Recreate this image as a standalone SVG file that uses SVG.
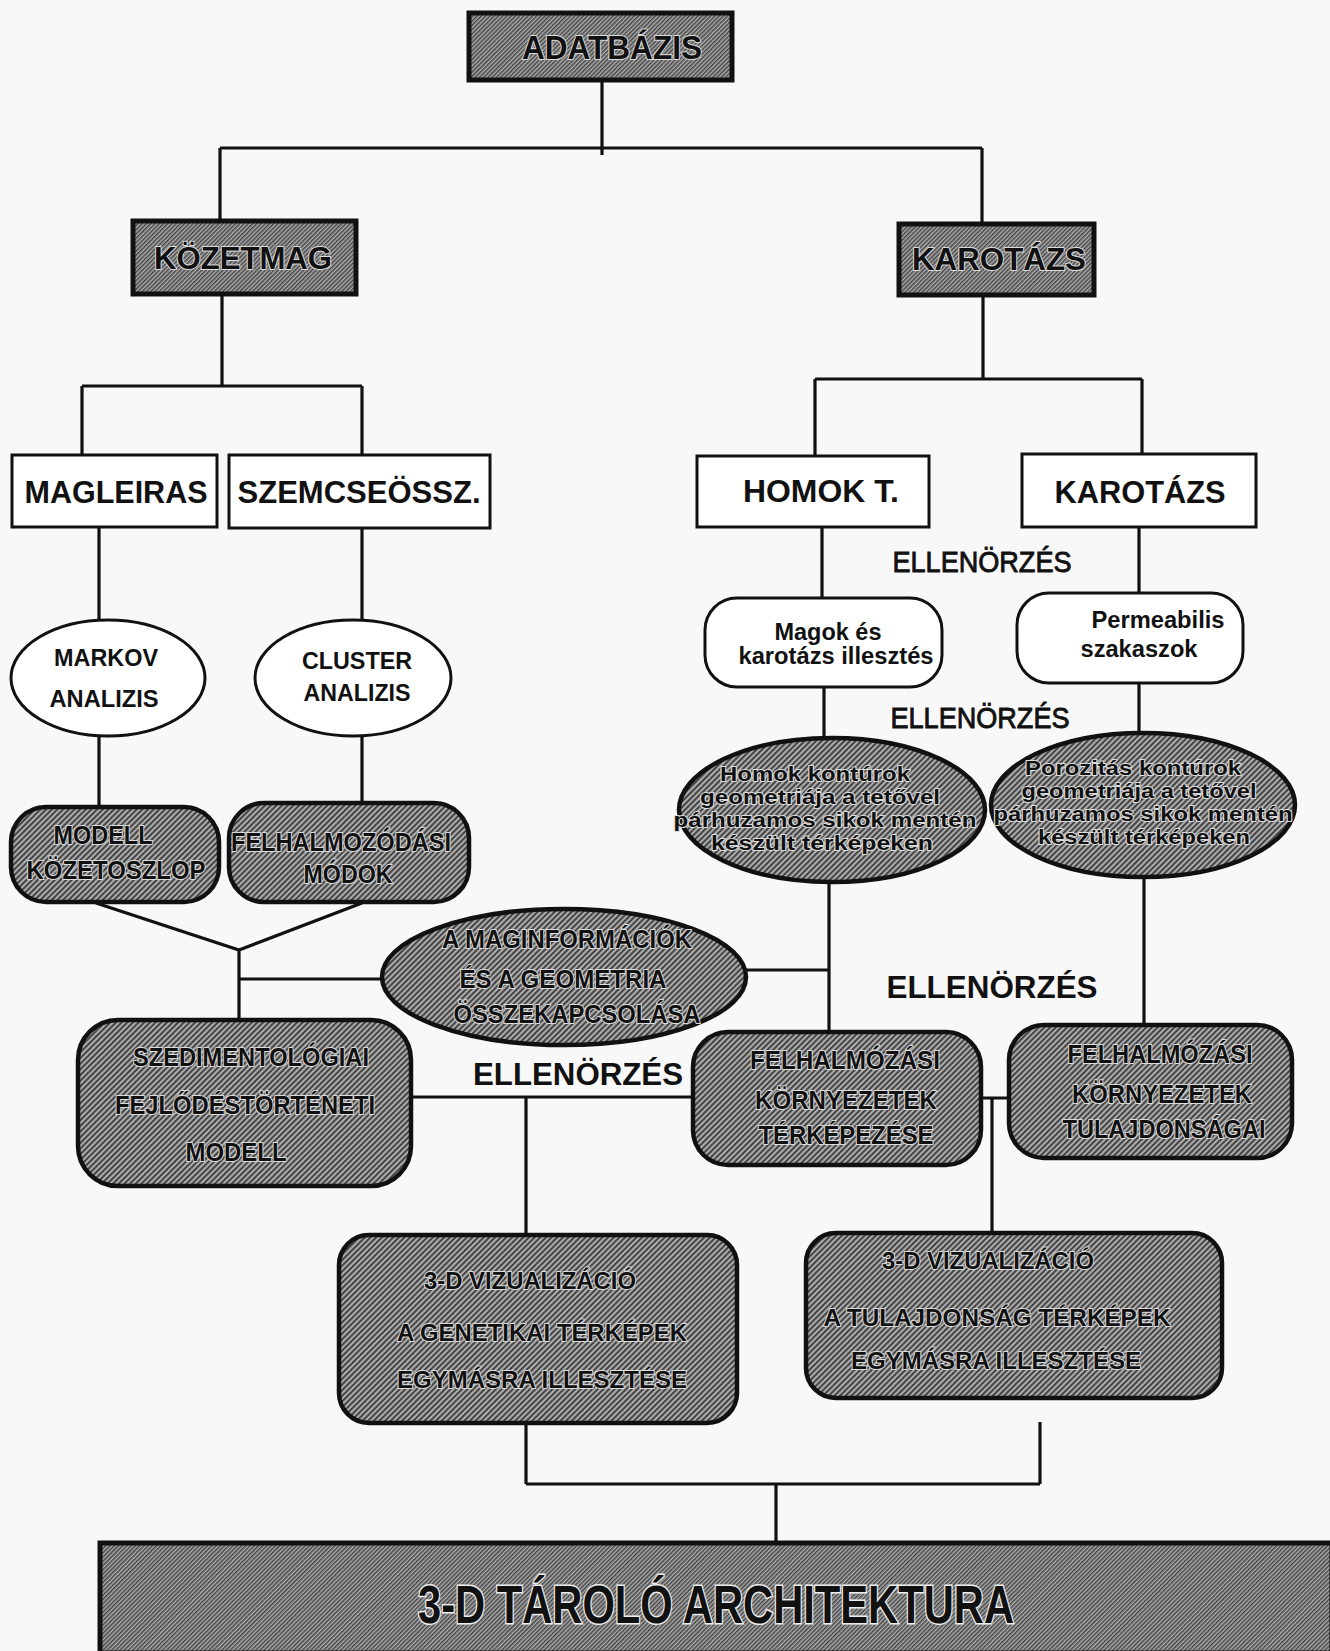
<svg xmlns="http://www.w3.org/2000/svg" width="1330" height="1651" viewBox="0 0 1330 1651">
<defs>
<pattern id="hatch" width="4" height="4" patternUnits="userSpaceOnUse" patternTransform="rotate(-45)">
<rect width="4" height="4" fill="#ababab"/>
<rect width="4" height="1.9" fill="#404040"/>
</pattern>
<pattern id="hatch2" width="3" height="3" patternUnits="userSpaceOnUse" patternTransform="rotate(-45)">
<rect width="3" height="3" fill="#aaaaaa"/>
<rect width="3" height="1.5" fill="#474747"/>
</pattern>
</defs>
<style>
text{font-family:"Liberation Sans",Arial,sans-serif;text-anchor:middle;fill:#111}
.b{font-weight:bold}
.hs{font-weight:bold;stroke:#dcdcdc;stroke-width:2;paint-order:stroke;stroke-linejoin:round}
.fu{font-weight:normal;stroke:#111;stroke-width:0.9}
.box{fill:url(#hatch2);stroke:#111;stroke-width:5}
.rbox{fill:url(#hatch);stroke:#111;stroke-width:4.5}
.wbox{fill:#fff;stroke:#111;stroke-width:3}
.conn{fill:none;stroke:#111;stroke-width:3.2}
</style>
<rect width="1330" height="1651" fill="#f8f8f8"/>

<g id="connectors" class="conn">
<path d="M602,80 V155 M220,148 H982 M220,148 V221 M982,148 V224"/>
<path d="M222,294 V386 M82,386 H362 M82,386 V455 M362,386 V455"/>
<path d="M983,295 V379 M815,379 H1142 M815,379 V456 M1142,379 V454"/>
<path d="M99,527 V620 M362,528 V620 M822,527 V598 M1139,527 V593"/>
<path d="M824,687 V737 M1139,683 V732"/>
<path d="M99,737 V807 M362,737 V803"/>
<path d="M96,903 L239,950 L362,903 M239,950 V1020 M239,979 H382"/>
<path d="M746,970 H829 M829,882 V1032 M1144,877 V1025"/>
<path d="M411,1097 H693 M526,1097 V1235 M981,1098 H1009 M992,1098 V1233"/>
<path d="M526,1423 V1484 M526,1484 H1040 M1040,1422 V1484 M776,1484 V1543"/>
</g>

<g id="adatbazis">
<rect class="box" x="469" y="13" width="263" height="67"/>
<text class="hs" x="612" y="59" font-size="33" textLength="180" lengthAdjust="spacingAndGlyphs">ADATBÁZIS</text>
</g>
<g id="kozetmag">
<rect class="box" x="133" y="221" width="223" height="73"/>
<text class="hs" x="243" y="269" font-size="32" textLength="178" lengthAdjust="spacingAndGlyphs">KÖZETMAG</text>
</g>
<g id="karotazs1">
<rect class="box" x="899" y="224" width="195" height="71"/>
<text class="hs" x="999" y="270" font-size="32" textLength="174" lengthAdjust="spacingAndGlyphs">KAROTÁZS</text>
</g>

<g id="magleiras">
<rect class="wbox" x="12" y="455" width="205" height="72"/>
<text class="b" x="116" y="503" font-size="31" textLength="183" lengthAdjust="spacingAndGlyphs">MAGLEIRAS</text>
</g>
<g id="szemcse">
<rect class="wbox" x="229" y="455" width="261" height="73"/>
<text class="b" x="359" y="503" font-size="31" textLength="243" lengthAdjust="spacingAndGlyphs">SZEMCSEÖSSZ.</text>
</g>
<g id="homokt">
<rect class="wbox" x="697" y="456" width="232" height="71"/>
<text class="b" x="821" y="502" font-size="31" textLength="156" lengthAdjust="spacingAndGlyphs">HOMOK T.</text>
</g>
<g id="karotazs2">
<rect class="wbox" x="1022" y="454" width="234" height="73"/>
<text class="b" x="1140" y="503" font-size="31" textLength="171" lengthAdjust="spacingAndGlyphs">KAROTÁZS</text>
</g>

<g id="markov">
<ellipse class="wbox" cx="108" cy="678" rx="97" ry="58"/>
<text class="b" x="106" y="666" font-size="24" textLength="104" lengthAdjust="spacingAndGlyphs">MARKOV</text>
<text class="b" x="104" y="707" font-size="24" textLength="109" lengthAdjust="spacingAndGlyphs">ANALIZIS</text>
</g>
<g id="cluster">
<ellipse class="wbox" cx="353" cy="678" rx="98" ry="58"/>
<text class="b" x="357" y="669" font-size="24" textLength="110" lengthAdjust="spacingAndGlyphs">CLUSTER</text>
<text class="b" x="357" y="701" font-size="24" textLength="107" lengthAdjust="spacingAndGlyphs">ANALIZIS</text>
</g>

<g id="ellenorzes1">
<text class="fu" x="982" y="572" font-size="30" textLength="179" lengthAdjust="spacingAndGlyphs">ELLENÖRZÉS</text>
</g>
<g id="magok">
<rect class="wbox" x="705" y="598" width="237" height="89" rx="32"/>
<text class="b" x="828" y="640" font-size="23" textLength="107" lengthAdjust="spacingAndGlyphs">Magok és</text>
<text class="b" x="836" y="664" font-size="23" textLength="195" lengthAdjust="spacingAndGlyphs">karotázs illesztés</text>
</g>
<g id="permeabilis">
<rect class="wbox" x="1017" y="593" width="226" height="90" rx="32"/>
<text class="b" x="1158" y="628" font-size="23" textLength="133" lengthAdjust="spacingAndGlyphs">Permeabilis</text>
<text class="b" x="1139" y="657" font-size="23" textLength="117" lengthAdjust="spacingAndGlyphs">szakaszok</text>
</g>
<g id="ellenorzes2">
<text class="fu" x="980" y="728" font-size="30" textLength="179" lengthAdjust="spacingAndGlyphs">ELLENÖRZÉS</text>
</g>

<g id="homok-konturok">
<ellipse class="rbox" cx="832" cy="810" rx="153" ry="72"/>
<text class="hs" x="815" y="781" font-size="20" textLength="190" lengthAdjust="spacingAndGlyphs">Homok kontúrok</text>
<text class="hs" x="820" y="804" font-size="20" textLength="240" lengthAdjust="spacingAndGlyphs">geometriája a tetővel</text>
<text class="hs" x="825" y="827" font-size="20" textLength="303" lengthAdjust="spacingAndGlyphs">párhuzamos sikok mentén</text>
<text class="hs" x="822" y="850" font-size="20" textLength="222" lengthAdjust="spacingAndGlyphs">készült térképeken</text>
</g>
<g id="porozitas-konturok">
<ellipse class="rbox" cx="1143" cy="805" rx="152" ry="72"/>
<text class="hs" x="1133" y="775" font-size="20" textLength="216" lengthAdjust="spacingAndGlyphs">Porozitás kontúrok</text>
<text class="hs" x="1139" y="798" font-size="20" textLength="235" lengthAdjust="spacingAndGlyphs">geometriája a tetővel</text>
<text class="hs" x="1143" y="821" font-size="20" textLength="299" lengthAdjust="spacingAndGlyphs">párhuzamos sikok mentén</text>
<text class="hs" x="1144" y="844" font-size="20" textLength="212" lengthAdjust="spacingAndGlyphs">készült térképeken</text>
</g>

<g id="modell-kozetoszlop">
<rect class="rbox" x="11" y="807" width="208" height="95" rx="35"/>
<text class="hs" x="103" y="844" font-size="25" textLength="99" lengthAdjust="spacingAndGlyphs">MODELL</text>
<text class="hs" x="116" y="879" font-size="25" textLength="179" lengthAdjust="spacingAndGlyphs">KÖZETOSZLOP</text>
</g>
<g id="felhalmozodasi-modok">
<rect class="rbox" x="229" y="803" width="240" height="99" rx="35"/>
<text class="hs" x="341" y="851" font-size="25" textLength="220" lengthAdjust="spacingAndGlyphs">FELHALMOZÓDÁSI</text>
<text class="hs" x="348" y="883" font-size="25" textLength="89" lengthAdjust="spacingAndGlyphs">MÓDOK</text>
</g>

<g id="maginformaciok">
<ellipse class="rbox" cx="564" cy="977" rx="182" ry="68"/>
<text class="hs" x="567" y="948" font-size="25" textLength="250" lengthAdjust="spacingAndGlyphs">A MAGINFORMÁCIÓK</text>
<text class="hs" x="563" y="988" font-size="25" textLength="207" lengthAdjust="spacingAndGlyphs">ÉS A GEOMETRIA</text>
<text class="hs" x="577" y="1023" font-size="25" textLength="247" lengthAdjust="spacingAndGlyphs">ÖSSZEKAPCSOLÁSA</text>
</g>

<g id="ellenorzes3">
<text class="b" x="992" y="998" font-size="31" textLength="211" lengthAdjust="spacingAndGlyphs">ELLENÖRZÉS</text>
</g>
<g id="ellenorzes4">
<text class="b" x="578" y="1085" font-size="31" textLength="210" lengthAdjust="spacingAndGlyphs">ELLENÖRZÉS</text>
</g>

<g id="szedimentologiai">
<rect class="rbox" x="78" y="1020" width="333" height="166" rx="40"/>
<text class="hs" x="251" y="1066" font-size="25" textLength="236" lengthAdjust="spacingAndGlyphs">SZEDIMENTOLÓGIAI</text>
<text class="hs" x="245" y="1114" font-size="25" textLength="260" lengthAdjust="spacingAndGlyphs">FEJLŐDÉSTÖRTÉNETI</text>
<text class="hs" x="236" y="1161" font-size="25" textLength="101" lengthAdjust="spacingAndGlyphs">MODELL</text>
</g>
<g id="felhalmozasi-terkepezese">
<rect class="rbox" x="693" y="1032" width="288" height="133" rx="35"/>
<text class="hs" x="845" y="1069" font-size="25" textLength="190" lengthAdjust="spacingAndGlyphs">FELHALMÓZÁSI</text>
<text class="hs" x="846" y="1109" font-size="25" textLength="182" lengthAdjust="spacingAndGlyphs">KÖRNYEZETEK</text>
<text class="hs" x="846" y="1144" font-size="25" textLength="175" lengthAdjust="spacingAndGlyphs">TÉRKÉPEZÉSE</text>
</g>
<g id="felhalmozasi-tulajdonsagai">
<rect class="rbox" x="1009" y="1025" width="283" height="133" rx="35"/>
<text class="hs" x="1160" y="1063" font-size="25" textLength="185" lengthAdjust="spacingAndGlyphs">FELHALMÓZÁSI</text>
<text class="hs" x="1162" y="1103" font-size="25" textLength="180" lengthAdjust="spacingAndGlyphs">KÖRNYEZETEK</text>
<text class="hs" x="1164" y="1138" font-size="25" textLength="203" lengthAdjust="spacingAndGlyphs">TULAJDONSÁGAI</text>
</g>

<g id="viz-genetikai">
<rect class="rbox" x="339" y="1235" width="398" height="188" rx="30" stroke-width="5.5"/>
<text class="hs" x="530" y="1289" font-size="24" textLength="212" lengthAdjust="spacingAndGlyphs">3-D VIZUALIZÁCIÓ</text>
<text class="hs" x="542" y="1341" font-size="24" textLength="290" lengthAdjust="spacingAndGlyphs">A GENETIKAI TÉRKÉPEK</text>
<text class="hs" x="542" y="1388" font-size="24" textLength="290" lengthAdjust="spacingAndGlyphs">EGYMÁSRA ILLESZTÉSE</text>
</g>
<g id="viz-tulajdonsag">
<rect class="rbox" x="806" y="1233" width="416" height="165" rx="30" stroke-width="5.5"/>
<text class="hs" x="988" y="1269" font-size="24" textLength="212" lengthAdjust="spacingAndGlyphs">3-D VIZUALIZÁCIÓ</text>
<text class="hs" x="997" y="1326" font-size="24" textLength="347" lengthAdjust="spacingAndGlyphs">A TULAJDONSÁG TÉRKÉPEK</text>
<text class="hs" x="996" y="1369" font-size="24" textLength="290" lengthAdjust="spacingAndGlyphs">EGYMÁSRA ILLESZTÉSE</text>
</g>

<g id="tarolo-architektura">
<rect class="box" x="100" y="1543" width="1232" height="110"/>
<text x="716" y="1623" font-size="54" textLength="596" lengthAdjust="spacingAndGlyphs" stroke="#eeeeee" stroke-width="3" paint-order="stroke" style="font-weight:bold">3-D TÁROLÓ ARCHITEKTURA</text>
</g>
</svg>
